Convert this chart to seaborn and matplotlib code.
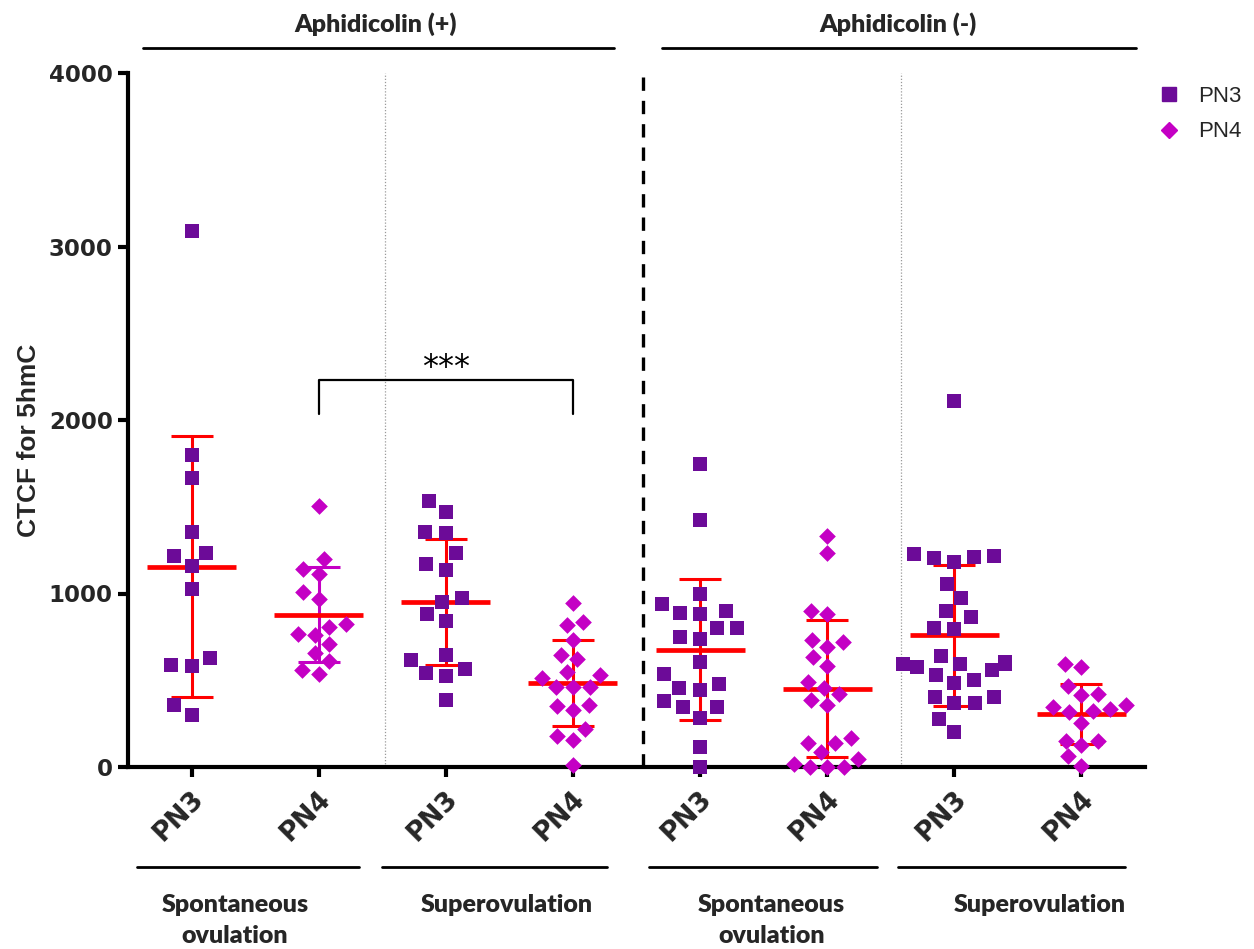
import numpy as np
import pandas as pd
import matplotlib
matplotlib.use("Agg")
import matplotlib.pyplot as plt
import seaborn as sns
from matplotlib.lines import Line2D
from matplotlib.transforms import blended_transform_factory

# ---------------- data ----------------
groups = ["AphP_Spont_PN3", "AphP_Spont_PN4", "AphP_Super_PN3", "AphP_Super_PN4",
          "AphM_Spont_PN3", "AphM_Spont_PN4", "AphM_Super_PN3", "AphM_Super_PN4"]
tick_labels = ["PN3", "PN4", "PN3", "PN4", "PN3", "PN4", "PN3", "PN4"]
stages = ["PN3", "PN4", "PN3", "PN4", "PN3", "PN4", "PN3", "PN4"]

aphp_spont_pn3 = [3090, 1800, 1668, 1353, 1214, 1236, 1159, 1026, 588, 582, 631, 359, 299]
aphp_spont_pn4 = [1504, 1197, 1143, 1110, 1009, 970, 807, 822, 765, 759, 711, 659, 609, 561, 538]
aphp_super_pn3 = [1533, 1470, 1354, 1349, 1233, 1172, 1137, 976, 951, 880, 841, 644, 619, 567,
                  542, 523, 384]
aphp_super_pn4 = [945, 836, 820, 734, 647, 622, 547, 532, 513, 461, 461, 461, 359, 350, 327,
                  219, 181, 154, 13]
aphm_spont_pn3 = [1744, 1425, 999, 941, 889, 884, 899, 799, 803, 736, 749, 607, 538, 480, 442,
                  457, 380, 348, 348, 284, 115, 0]
aphm_spont_pn4 = [1329, 1233, 897, 880, 734, 720, 692, 634, 582, 490, 455, 419, 355, 384, 167,
                  140, 138, 86, 48, 0, 0, 0, 15]
aphm_super_pn3 = [2109, 1229, 1210, 1181, 1204, 1214, 1057, 974, 899, 864, 797, 803, 642, 592,
                  595, 605, 595, 557, 576, 528, 503, 484, 403, 369, 369, 403, 279, 202]
aphm_super_pn4 = [596, 574, 469, 423, 417, 359, 346, 334, 321, 315, 254, 152, 152, 129, 61, 4]

series = [aphp_spont_pn3, aphp_spont_pn4, aphp_super_pn3, aphp_super_pn4,
          aphm_spont_pn3, aphm_spont_pn4, aphm_super_pn3, aphm_super_pn4]

top_labels = ["Aphidicolin (+)", "Aphidicolin (-)"]
bottom_labels = ["Spontaneous\novulation", "Superovulation", "Spontaneous\novulation", "Superovulation"]
y_ticks = [0, 1000, 2000, 3000, 4000]

rows = []
for g, st, vals in zip(groups, stages, series):
    for v in vals:
        rows.append({"group": g, "stage": st, "value": v})
df = pd.DataFrame(rows)

# ---------------- style ----------------
sns.set_style("ticks")
plt.rcParams["font.family"] = ["DejaVu Sans"]

C_PN3 = "#6c0b98"
C_PN4 = "#c400c4"
RED = "#ff0000"
SQ = 10.5
DM = 8.5

fig = plt.figure(figsize=(12.54, 9.49), dpi=100)
ax = fig.add_axes([128 / 1254, 1 - 767 / 949, (1145 - 128) / 1254, 694 / 949])
ax.set_xlim(-0.5, 7.5)
ax.set_ylim(0, 4000)

# swarm layout computed by seaborn with a looser spacing (GraphPad-like),
# then the points it placed are redrawn at the true marker size
sns.swarmplot(data=df[df.stage == "PN3"], x="group", y="value", order=groups,
              color=C_PN3, marker="s", size=14, linewidth=0, ax=ax)
n0 = len(ax.collections)
sns.swarmplot(data=df[df.stage == "PN4"], x="group", y="value", order=groups,
              color=C_PN4, marker="D", size=11.5, linewidth=0, ax=ax)
ax.set_xlim(-0.5, 7.5)
ax.set_ylim(0, 4000)
fig.canvas.draw()
placed = []
for k, coll in enumerate(list(ax.collections)):
    offs = np.asarray(coll.get_offsets())
    placed.append((k < n0, offs))
    coll.remove()
for is_pn3, offs in placed:
    if len(offs) == 0:
        continue
    ax.scatter(offs[:, 0], offs[:, 1], marker="s" if is_pn3 else "D",
               s=(SQ if is_pn3 else DM) ** 2, color=C_PN3 if is_pn3 else C_PN4,
               linewidths=0, zorder=3, clip_on=False)

stats = df.groupby("group")["value"].agg(["mean", "std"]).reindex(groups)
for i, g in enumerate(groups):
    m, s = stats.loc[g, "mean"], stats.loc[g, "std"]
    ecol = C_PN4 if i == 1 else RED
    ax.errorbar(i, m, yerr=s, color=ecol, lw=2.2, capsize=15, capthick=2.2, zorder=2)
    ax.hlines(m, i - 0.35, i + 0.35, color=RED, lw=3.4, zorder=2.5)

ax.set_xlim(-0.5, 7.5)
ax.set_ylim(0, 4000)
ax.set_yticks(y_ticks)
ax.set_yticklabels([str(t) for t in y_ticks], fontsize=16.5, fontweight="bold")
ax.set_xticks(range(len(groups)))
ax.set_xticklabels([""] * len(groups))
tr = blended_transform_factory(ax.transData, ax.transAxes)
for i, lab in enumerate(tick_labels):
    ax.annotate(lab, xy=(i, 0), xycoords=tr, xytext=(6, -20), textcoords="offset points",
                rotation=45, ha="right", va="center", rotation_mode="anchor",
                fontsize=19, fontweight="bold", annotation_clip=False)
ax.set_xlabel("")
ax.set_ylabel("CTCF for 5hmC", fontsize=19, fontweight="bold",
              family=["Liberation Sans Narrow", "Liberation Sans", "DejaVu Sans"])
ax.yaxis.set_label_coords(-0.086, 0.47)

for sp in ["top", "right"]:
    ax.spines[sp].set_visible(False)
for sp in ["left", "bottom"]:
    ax.spines[sp].set_linewidth(3)
    ax.spines[sp].set_color("black")
ax.tick_params(axis="both", width=3, length=7, color="black", pad=4)

# separators
ax.axvline(3.55, color="black", lw=2.4, ls=(0, (4, 3)), zorder=1)
for xv in (1.52, 5.58):
    ax.axvline(xv, color="#9a9a9a", lw=0.9, ls=(0, (1, 1.5)), zorder=1)

# significance bracket
ax.plot([1, 1, 3, 3], [2035, 2231, 2231, 2035], color="black", lw=1.6, zorder=4)
ax.text(2, 2300, "***", ha="center", va="center", fontsize=23, color="black")

# top / bottom group annotations
grp_font = ["Lato", "DejaVu Sans"]
for (x0, x1), xc, lab in zip([(-0.385, 3.32), (3.70, 7.43)], [1.45, 5.56], top_labels):
    ax.plot([x0, x1], [1.036, 1.036], transform=tr, color="black", lw=2, clip_on=False)
    ax.text(xc, 1.071, lab, transform=tr, ha="center", va="center", fontsize=18,
            fontweight="heavy", family=grp_font)
for (x0, x1), xc, lab in zip([(-0.43, 1.32), (1.50, 3.27), (3.60, 5.39), (5.56, 7.34)],
                             [0.34, 2.48, 4.56, 6.67], bottom_labels):
    ax.plot([x0, x1], [-0.144, -0.144], transform=tr, color="black", lw=2, clip_on=False)
    ax.text(xc, -0.183, lab, transform=tr, ha="center", va="top", fontsize=18,
            fontweight="heavy", family=grp_font, linespacing=1.5)

# legend
handles = [Line2D([], [], marker="s", color=C_PN3, ls="none", markersize=SQ),
           Line2D([], [], marker="D", color=C_PN4, ls="none", markersize=DM)]
fig.legend(handles, ["PN3", "PN4"], loc="upper left", bbox_to_anchor=(1136 / 1254, 1 - 66 / 949),
           frameon=False, prop={"family": ["Liberation Sans", "DejaVu Sans"], "size": 16},
           handletextpad=0.7, labelspacing=0.65, handlelength=1.2)

fig.savefig("out.png", dpi=100)
